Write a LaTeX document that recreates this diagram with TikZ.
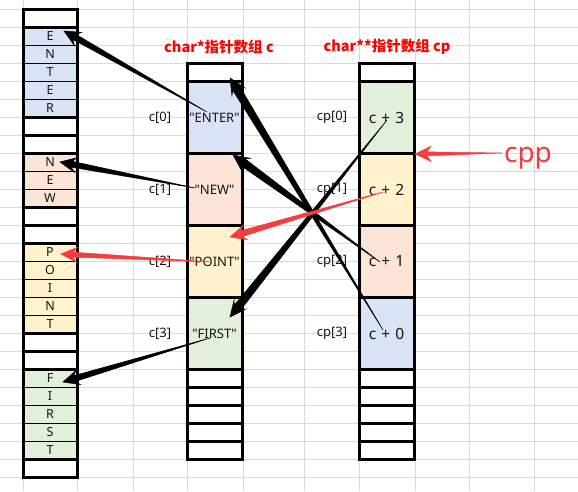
\documentclass[tikz,border=0pt]{standalone}
\usepackage{fontspec}
\setmainfont{Noto Sans}[Ligatures=TeXOff]
\newfontfamily\cjk{Noto Sans CJK SC}
\usetikzlibrary{calc}
\definecolor{cellblue}{HTML}{DAE3F3}
\definecolor{cellpeach}{HTML}{FCE4D6}
\definecolor{cellyellow}{HTML}{FFF2CC}
\definecolor{cellgreen}{HTML}{E2EFDA}
\definecolor{gridgray}{HTML}{DADADA}
\definecolor{inkdark}{HTML}{141414}
\definecolor{titlered}{HTML}{FF0000}
\definecolor{annored}{HTML}{F53D3D}

% tapered arrow: colour, from, to, shaft half width
\newcommand{\taperarrow}[4][black]{%
  \filldraw[#1, line width=0.5pt] (#2)
    -- ($(#3)!12pt!(#2)!#4!90:(#3)$) -- ($(#3)!16pt!(#2)!7.5pt!90:(#3)$) -- (#3)
    -- ($(#3)!16pt!(#2)!7.5pt!-90:(#3)$) -- ($(#3)!12pt!(#2)!#4!-90:(#3)$) -- cycle;}

\begin{document}
\begin{tikzpicture}[x=1pt, y=-1pt,
  gridline/.style={draw=gridgray, line width=0.9pt},
  cell/.style={draw, line width=0.8pt, anchor=north west, inner sep=0pt, outer sep=0pt,
    minimum width=54pt, minimum height=18pt, text=inkdark, font=\fontsize{12.5}{14}\selectfont},
  bigcell/.style={cell, line width=3pt, text width=53pt, align=center, minimum width=55pt,
    minimum height=72pt, font=\fontsize{13}{15}\selectfont},
  valcell/.style={bigcell, font=\fontsize{15.5}{17}\selectfont},
  blankcell/.style={cell, line width=3pt, minimum width=55pt, fill=white},
  frame/.style={line width=3pt},
  index/.style={text=inkdark, font=\fontsize{13}{15}\selectfont},
  title/.style={text=titlered, font=\cjk\bfseries\fontsize{14.5}{17}\selectfont}]
  \useasboundingbox[fill=white] (0,0) rectangle (578,491);

  % spreadsheet grid
  \foreach \x in {23,77,133,187,243,304,359,415,469,534}
    \draw[gridline] (\x,0) -- (\x,491);
  \foreach \k in {0,...,26}
    \draw[gridline] (0,9.5+18*\k) -- (578,9.5+18*\k);

  % string memory (left column)
  \foreach \r/\t/\f in {0//white, 1/E/cellblue, 2/N/cellblue, 3/T/cellblue, 4/E/cellblue,
      5/R/cellblue, 6//white, 7//white, 8/N/cellpeach, 9/E/cellpeach, 10/W/cellpeach,
      11//white, 12//white, 13/P/cellyellow, 14/O/cellyellow, 15/I/cellyellow,
      16/N/cellyellow, 17/T/cellyellow, 18//white, 19//white, 20/F/cellgreen,
      21/I/cellgreen, 22/R/cellgreen, 23/S/cellgreen, 24/T/cellgreen, 25//white}
    \node[cell, fill=\f] (s\r) at (23,9.5+18*\r) {\t};
  \foreach \a/\b in {0/0,1/5,6/6,7/7,8/10,11/11,12/12,13/17,18/18,19/19,20/24,25/25}
    \draw[frame] (s\a.north west) rectangle (s\b.south east);

  % char* array c
  \node[title] (ctitle) at (219,47) {char*指针数组 c};
  \node[blankcell] (ctop) at (187,63.5) {};
  \foreach \i/\t/\f in {0/"ENTER"/cellblue, 1/"NEW"/cellpeach, 2/"POINT"/cellyellow,
      3/"FIRST"/cellgreen} {
    \node[bigcell, fill=\f] (c\i) at (187,81.5+72*\i) {\t};
    \node[index] (ci\i) at (160,117.5+72*\i) {c[\i]};
  }
  \foreach \i in {0,...,4}
    \node[blankcell] (cb\i) at (187,369.5+18*\i) {};

  % char** array cp
  \node[title] (ptitle) at (387,47) {char**指针数组 cp};
  \node[blankcell] (ptop) at (359,63.5) {};
  \foreach \i/\t/\f in {0/c + 3/cellgreen, 1/c + 2/cellyellow, 2/c + 1/cellpeach,
      3/c + 0/cellblue} {
    \node[valcell, fill=\f] (p\i) at (359,81.5+72*\i) {\t};
    \node[index] (pi\i) at (332,117.5+72*\i) {cp[\i]};
  }
  \foreach \i in {0,...,4}
    \node[blankcell] (pb\i) at (359,369.5+18*\i) {};

  \node[text=annored, font=\fontsize{28}{30}\selectfont] (cpp) at (528,158) {cpp};

  % arrow ends
  \coordinate (enterFrom) at (207,112);  \coordinate (enterTo) at (64,31);
  \coordinate (newFrom) at (195,188);    \coordinate (newTo) at (60,162);
  \coordinate (pointFrom) at (212,262);  \coordinate (pointTo) at (61,254);
  \coordinate (firstFrom) at (210,338);  \coordinate (firstTo) at (63,382);
  \coordinate (p0From) at (387,120);     \coordinate (p0To) at (230,317);
  \coordinate (p1From) at (383,192);     \coordinate (p1To) at (230,237);
  \coordinate (p2From) at (380,262);     \coordinate (p2To) at (233,155);
  \coordinate (p3From) at (383,330);     \coordinate (p3To) at (230,78);
  \coordinate (cppFrom) at (502,153);    \coordinate (cppTo) at (415,154);

  % arrows
  \taperarrow{enterFrom}{enterTo}{3pt}
  \taperarrow{newFrom}{newTo}{3pt}
  \taperarrow[annored]{pointFrom}{pointTo}{2.5pt}
  \taperarrow{firstFrom}{firstTo}{3pt}
  \taperarrow{p0From}{p0To}{4pt}
  \taperarrow{p2From}{p2To}{4pt}
  \taperarrow{p3From}{p3To}{4pt}
  \taperarrow[annored]{p1From}{p1To}{3pt}
  \taperarrow[annored]{cppFrom}{cppTo}{2pt}
\end{tikzpicture}
\end{document}
